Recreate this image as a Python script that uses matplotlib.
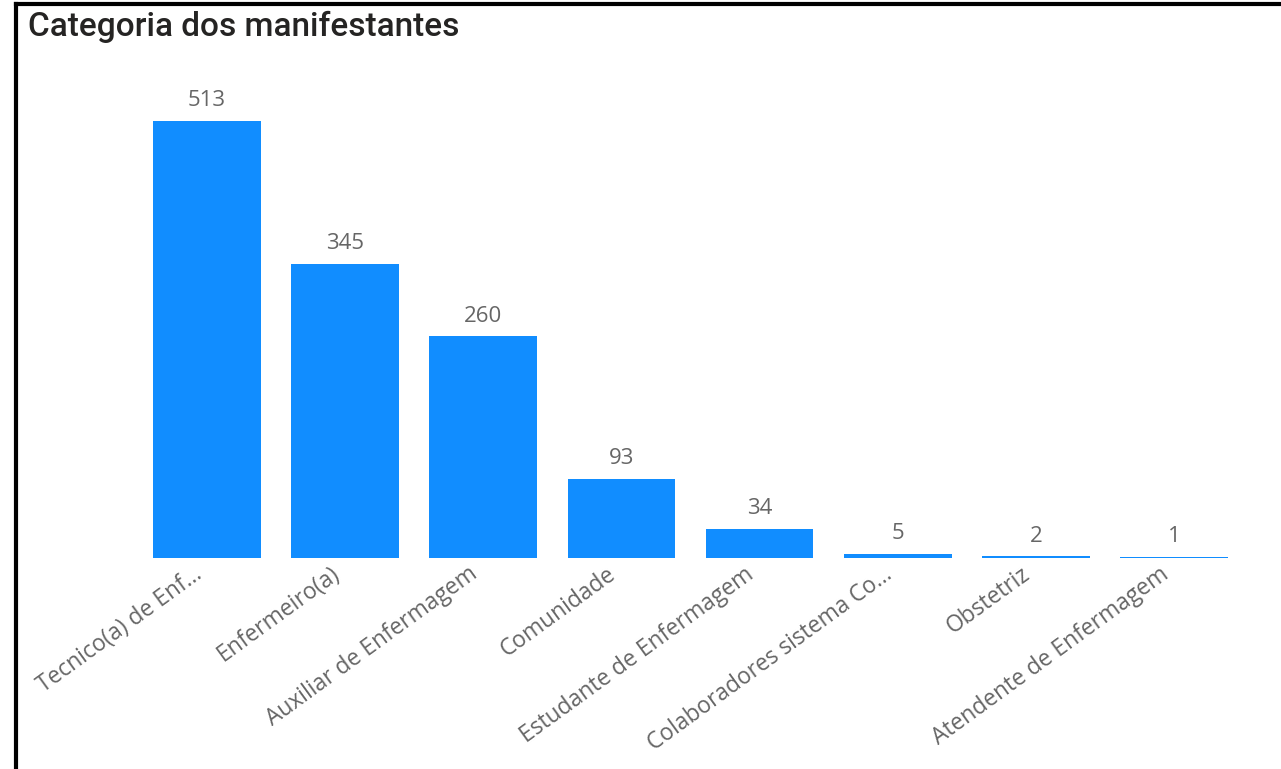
import numpy as np
import matplotlib.pyplot as plt
import matplotlib.transforms as mtransforms
from matplotlib.lines import Line2D

# data
categorias = ['Tecnico(a) de Enf...', 'Enfermeiro(a)', 'Auxiliar de Enfermagem',
              'Comunidade', 'Estudante de Enfermagem', 'Colaboradores sistema Co...',
              'Obstetriz', 'Atendente de Enfermagem']
valores = [513, 345, 260, 93, 34, 5, 2, 1]

BAR_COLOR = '#118DFF'
TEXT_GRAY = '#666666'

fig = plt.figure(figsize=(12.81, 7.69), dpi=100)
ax = fig.add_axes([138/1281, (769-558)/769, (1243-138)/1281, (558-80)/769])

x = np.arange(len(categorias))
bars = ax.bar(x, valores, width=0.78, color=BAR_COLOR)

ax.set_xlim(-0.5, len(categorias)-0.5)
ax.set_ylim(0, 561)
for s in ax.spines.values():
    s.set_visible(False)
ax.set_yticks([])
ax.set_xticks(x)
ax.set_xticklabels(categorias, rotation=36, ha='right', rotation_mode='anchor',
                   fontsize=16.4, color=TEXT_GRAY, family=['Open Sans', 'DejaVu Sans'])
ax.tick_params(axis='x', length=0, pad=3)
# nudge labels a bit to the left
shift = mtransforms.ScaledTranslation(-15/100, 0, fig.dpi_scale_trans)
for lbl in ax.get_xticklabels():
    lbl.set_transform(lbl.get_transform() + shift)

for xi, v in zip(x, valores):
    ax.annotate(str(v), (xi, v), xytext=(0, 7), textcoords='offset points',
                ha='center', va='bottom', fontsize=16, color=TEXT_GRAY,
                family=['Open Sans', 'DejaVu Sans'])

fig.text(28/1281, 1-27/769, 'Categoria dos manifestantes', ha='left', va='center',
         fontsize=24, fontweight='medium', color='#252423',
         family=['Roboto', 'DejaVu Sans'])

# frame lines (left and top)
fig.add_artist(Line2D([16/1281, 16/1281], [0, 1-4/769], color='black', lw=3,
                      transform=fig.transFigure))
fig.add_artist(Line2D([16/1281, 1], [1-4/769, 1-4/769], color='black', lw=3,
                      transform=fig.transFigure))

fig.savefig('out.png', dpi=100)
